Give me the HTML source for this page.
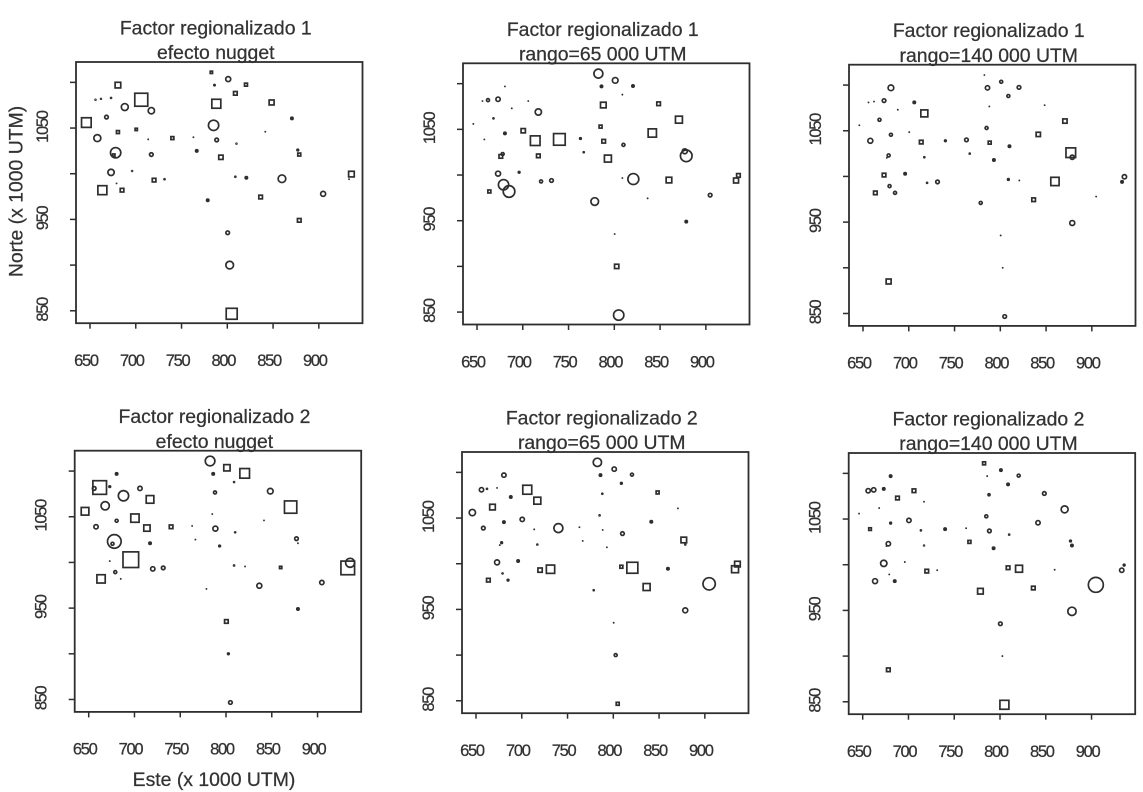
<!DOCTYPE html>
<html lang="es">
<head>
<meta charset="utf-8">
<title>Factores regionalizados</title>
<style>
html,body{margin:0;padding:0;background:#fff;}
svg{display:block;}
text{font-family:"Liberation Sans",sans-serif;fill:#333;stroke:#333;stroke-width:0.25px;}
</style>
</head>
<body>
<svg id="chart" xmlns="http://www.w3.org/2000/svg" width="1143" height="792" viewBox="0 0 1143 792">
<defs><filter id="scan" x="-2%" y="-2%" width="104%" height="104%"><feGaussianBlur stdDeviation="0.35"/></filter></defs>
<rect x="0" y="0" width="1143" height="792" fill="#ffffff"/>
<g id="root" filter="url(#scan)"></g>
</svg>
<script>
// Sample locations (x 1000 UTM)
const eastings = [646,658,656,662,673,668,680.5,688,706,717,680.5,700.5,713.6,740,763,766.6,678,676,717,673,696,679,685,663.5,720,731.4,782.6,786,801,820.4,808.8,788,848.4,870.6,785,841.5,788.4,810,793,877,878.6,808.8,820.8,859.7,836.4,778.6,904.7,935.6,878.6,800.4,802.6,804.8,933,678];
const northings = [1056,1039,1081,1082,1083,1062,1097,1073,1081,1069,1045.6,1048.5,1037.6,1039,1040,1025,1023,1020.4,1021,1001.5,1003,989.4,982,982,993,994,1111,1097,1103.6,1097.5,1088,1076.6,1078,1060.6,1053,1046,1037,1033,1018,1026,1021,996.7,995.6,994.5,974.5,971,978,999.6,949,935.4,900,846.7,994,885];

// Factor scores: positive = square, negative = circle, size follows magnitude, 0 = not drawn
const factor1Nugget = [1.7,-1.3,-.35,-.35,-.4,-.8,1.1,-1.3,2.2,-1.2,.7,.6,-.3,.7,-.2,-.6,-1.8,.6,-.8,-1.2,-.35,-.2,.8,1.6,.8,-.4,.6,-.45,-1.0,.7,.8,1.6,1.0,-.6,-1.8,-.25,-.8,-.35,.9,-.5,.7,-.4,-.6,-1.4,.8,-.6,-1.0,1.1,.8,-.8,-1.4,1.9,-.2,0];
const factor1Range65 = [-.3,-.3,-.25,-.7,-.9,-.4,-.2,-.2,-.3,-1.2,-.6,.9,1.7,2.0,-.5,-.4,-.7,.8,.8,-1.0,-.5,-1.8,-2.0,.7,-.7,-.8,-1.6,-.6,-1.1,-.6,-.3,1.1,.8,1.3,.7,1.5,.8,-.7,1.3,-1.0,-2.0,-.3,-1.9,1.1,-.3,-1.4,-.8,.8,-.6,-.3,.9,-1.8,1.0,0];
const factor1Range140 = [-.25,-1.0,-.2,-.2,-.8,-.7,-1.1,-.2,-.6,1.3,-.7,-.3,.8,-.5,-.8,-.4,-.7,-.2,-.4,.8,-.6,-.7,-.7,.8,-.4,-.8,-.2,-.9,-.7,-.8,-.7,-.25,-.2,.9,-.7,.9,.7,-.6,-.6,1.7,-.9,-.5,-.3,1.5,.8,-.7,-.25,-.9,-1.0,-.25,-.15,-.8,-.6,1.0];
const factor2Nugget = [1.4,-.9,-.8,2.3,-.5,-1.5,-.6,-1.8,-.9,1.4,-.7,1.5,1.2,.8,-.3,-.2,-2.3,-.7,-.6,-.3,2.6,-.7,-.3,1.5,-.9,-.8,-1.7,-.6,1.2,1.7,-.4,-.7,-1.1,2.1,-.3,-.3,-1.0,-.4,-.5,-.8,-.25,-.4,-.25,.6,-1.0,-.3,-.9,-1.6,-.6,.8,-.5,-.8,2.3,0];
const factor2Range65 = [-1.2,-.8,-.9,-.4,-.2,1.1,-.9,-.6,1.6,1.3,-.6,-.9,-.3,-1.6,-.25,-.25,-.5,-.25,-.4,-1.0,-.6,-.4,-.5,.8,.9,1.5,-1.5,-.6,-.9,-.7,-.5,-.4,.7,-.2,-.4,-.6,-.25,-.8,-.3,1.1,-.4,.7,1.9,-.6,1.3,-.4,-2.1,1.1,-1.0,-.3,-.7,.7,1.3,0];
const factor2Range140 = [-.3,.65,-.9,-.9,-.6,-.25,-.6,.8,.8,-.3,-.5,-.9,-.4,-.6,-.3,.7,-.9,-.3,-.35,-1.2,-.25,-.25,-.6,-1.0,.8,-.2,.7,-.3,-.6,-.7,-.6,-.55,-.8,-1.3,-.7,-.9,-.8,-.4,-.6,-.5,-.6,.8,1.3,-.3,.8,1.1,-2.5,-.5,-1.5,-.8,-.2,1.6,-.9,.8];

// Axis ticks and labels
const xTicks = [650,700,750,800,850,900];
const yTicks = [850,900,950,1000,1050,1100];
const yTickLabels = [850,950,1050];
const xDomain = [634.7,947.7];
const yDomain = [836.4,1122.3];

// Text
const titleLine1 = ["Factor regionalizado 1","Factor regionalizado 1","Factor regionalizado 1","Factor regionalizado 2","Factor regionalizado 2","Factor regionalizado 2"];
const titleLine2 = ["efecto nugget","rango=65 000 UTM","rango=140 000 UTM","efecto nugget","rango=65 000 UTM","rango=140 000 UTM"];
const panelSeries = [factor1Nugget,factor1Range65,factor1Range140,factor2Nugget,factor2Range65,factor2Range140];

// Scanned panels sit at slightly different offsets
const panelLefts = [76,463,849,74.7,462,848.7];
const panelTops = [62,63.3,64.7,450.7,452,453];
const panelWidth = 286.5;
const panelHeight = 261.2;

const INK = "#2e2e2e";
const SVGNS = "http://www.w3.org/2000/svg";
const root = document.getElementById("root");

function make(tag, parent){
  const el = document.createElementNS(SVGNS, tag);
  parent.appendChild(el);
  return el;
}
function xAxisFn(i){
  return v => panelLefts[i] + (v - xDomain[0]) / (xDomain[1] - xDomain[0]) * panelWidth;
}
function yAxisFn(i){
  return v => panelTops[i] + panelHeight - (v - yDomain[0]) / (yDomain[1] - yDomain[0]) * panelHeight;
}
function addText(parent, str, x, y, size){
  const t = make("text", parent);
  t.setAttribute("x", x);
  t.setAttribute("y", y);
  t.setAttribute("font-size", size);
  t.setAttribute("text-anchor", "middle");
  t.textContent = str;
  return t;
}
function addLine(parent, x1, y1, x2, y2){
  const l = make("line", parent);
  l.setAttribute("x1", x1);
  l.setAttribute("y1", y1);
  l.setAttribute("x2", x2);
  l.setAttribute("y2", y2);
  l.setAttribute("stroke", INK);
  l.setAttribute("stroke-width", "1.5");
  return l;
}

panelSeries.forEach((series, p) => {
  const X = xAxisFn(p), Y = yAxisFn(p);
  const left = panelLefts[p], top = panelTops[p];
  const g = make("g", root);
  
  

  const cx = left + panelWidth / 2 - 3.5;
  const t1 = addText(g, titleLine1[p], cx, top - 27.5, 19.4);
  
  
  const t2 = addText(g, titleLine2[p], cx, top - 2.8, 19.4);
  
  

  const box = make("rect", g);
  box.setAttribute("x", left);
  box.setAttribute("y", top);
  box.setAttribute("width", panelWidth);
  box.setAttribute("height", panelHeight);
  box.setAttribute("fill", "none");
  box.setAttribute("stroke", INK);
  box.setAttribute("stroke-width", "1.8");
  
  

  xTicks.forEach(v => {
    const tick = addLine(g, X(v), top + panelHeight, X(v), top + panelHeight + 5.5);
    
    
    const lab = addText(g, String(v), X(v) - 4, top + panelHeight + 42.8, 16.5);
    lab.setAttribute("letter-spacing", "-1.3");
    
    
  });
  yTicks.forEach(v => {
    const tick = addLine(g, left - 6, Y(v), left, Y(v));
    
    
  });
  yTickLabels.forEach(v => {
    const lx = left - 28.2, ly = Y(v) - 1;
    const lab = addText(g, String(v), lx, ly, 16.5);
    lab.setAttribute("letter-spacing", "-1.3");
    lab.setAttribute("transform", "rotate(-90 " + lx + " " + ly + ")");
    
    
  });

  const sw = 1.7;
  series.forEach((v, i) => {
    if (v === 0) return;
    const px = X(eastings[i]), py = Y(northings[i]);
    const outer = Math.abs(v) * 10 / 3;
    const inner = Math.max(outer - sw / 2, 0.4);
    const solid = Math.abs(v) <= 0.6;
    let mark;
    if (v > 0) {
      mark = make("rect", g);
      mark.setAttribute("x", px - inner);
      mark.setAttribute("y", py - inner);
      mark.setAttribute("width", inner * 2);
      mark.setAttribute("height", inner * 2);
      
      
    } else {
      mark = make("circle", g);
      mark.setAttribute("cx", px);
      mark.setAttribute("cy", py);
      mark.setAttribute("r", inner);
      
      
    }
    mark.setAttribute("fill", (v < 0 && solid) ? INK : "none");
    mark.setAttribute("stroke", INK);
    mark.setAttribute("stroke-width", Math.abs(v) < 0.35 ? 1.1 : sw);
  });
});

const yTitle = addText(root, "Norte (x 1000 UTM)", 22.5, 191.5, 19.4);
yTitle.setAttribute("transform", "rotate(-90 22.5 191.5)");



const xTitle = addText(root, "Este (x 1000 UTM)", 214, 786, 19.4);


</script>
</body>
</html>
